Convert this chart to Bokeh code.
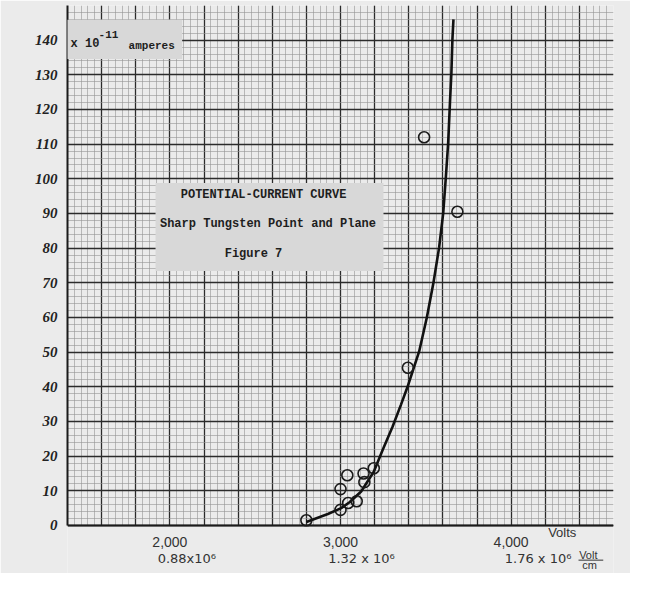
from bokeh.plotting import figure
from bokeh.models import (Range1d, SingleIntervalTicker, FixedTicker, Label,
                          BoxAnnotation, ColumnDataSource)
from bokeh.core.properties import value
from bokeh.embed import file_html
from bokeh.resources import INLINE

# ---- data ----
volts = [2800, 3000, 3000, 3040, 3045, 3095, 3135, 3140, 3195, 3395, 3490, 3685]
current = [1.5, 4.5, 10.5, 14.5, 6.5, 7.0, 15.0, 12.5, 16.5, 45.5, 112.0, 90.5]

curve_volts = [2800, 2926, 3004, 3053, 3121, 3195, 3247, 3305, 3354, 3393, 3461,
               3506, 3545, 3578, 3602, 3617, 3631, 3642, 3650, 3656, 3662]
curve_current = [1.0, 3.3, 5.0, 6.7, 9.8, 15.5, 21.8, 28.5, 34.8, 40.0, 50.2,
                 60.0, 70.1, 80.2, 90.1, 100.2, 110.3, 122.5, 130.6, 140.3, 146.0]

y_ticks = [0, 10, 20, 30, 40, 50, 60, 70, 80, 90, 100, 110, 120, 130, 140]
x_ticks = [2000, 3000, 4000]
x_tick_labels = ["2,000", "3,000", "4,000"]
field_labels = ["0.88x10\u2076", "1.32 x 10\u2076", "1.76 x 10\u2076"]

title_lines = ["POTENTIAL-CURRENT CURVE", "Sharp Tungsten Point and Plane", "Figure 7"]

X0, X1 = 1400, 4600      # extent of the graph paper (volts)
Y0, Y1 = 0, 150          # extent of the graph paper (amperes x 1e-11)

PAPER = "#ebebeb"
INK = "#1a1a1a"
PEN = "#333333"

p = figure(width=630, height=573, output_backend="svg", toolbar_location=None,
           x_range=Range1d(X0, X1), y_range=Range1d(-13.85, Y1),
           min_border_left=67, min_border_right=17, min_border_top=5,
           min_border_bottom=0)
p.background_fill_color = PAPER
p.border_fill_color = PAPER
p.outline_line_color = None

# graph paper
p.xgrid.ticker = SingleIntervalTicker(interval=200, num_minor_ticks=5)
p.ygrid.ticker = SingleIntervalTicker(interval=10, num_minor_ticks=5)
p.xgrid.bounds = (X0, X1)
p.xgrid.cross_bounds = (Y0, Y1)
p.ygrid.bounds = (Y0, Y1)
p.ygrid.cross_bounds = (X0, X1)
for g in (p.xgrid, p.ygrid):
    g.grid_line_color = "#2b2b2b"
    g.grid_line_width = 1.3
    g.minor_grid_line_color = "#939393"
    g.minor_grid_line_width = 0.6

# y axis
yax = p.yaxis[0]
yax.ticker = FixedTicker(ticks=y_ticks)
yax.bounds = (Y0, Y1)
yax.major_tick_line_color = None
yax.minor_tick_line_color = None
yax.axis_line_color = INK
yax.axis_line_width = 2
yax.major_label_standoff = 4
yax.major_label_text_font = "Liberation Serif"
yax.major_label_text_font_style = "bold italic"
yax.major_label_text_font_size = "15px"
yax.major_label_text_color = "#222222"

# x axis, drawn along the bottom edge of the paper
xax = p.xaxis[0]
xax.fixed_location = 0
xax.bounds = (X0, X1)
xax.ticker = FixedTicker(ticks=x_ticks)
xax.major_label_overrides = {t: s for t, s in zip(x_ticks, x_tick_labels)}
xax.major_tick_line_color = None
xax.minor_tick_line_color = None
xax.axis_line_color = INK
xax.axis_line_width = 2
xax.major_label_standoff = 6
xax.major_label_text_font = "Liberation Sans"
xax.major_label_text_font_size = "14px"
xax.major_label_text_color = PEN

# second line of x labels (field strength) and units
hand = dict(text_color=PEN, text_baseline="middle")
for t, s, off in zip(x_ticks, field_labels, [17, 21, 27]):
    p.text(x=[t], y=[-9.4], text=[s], x_offset=off, text_align="center",
           text_font=value("DejaVu Sans"), text_font_size="13px", **hand)
p.text(x=[4000], y=[-2.0], text=["Volts"], x_offset=37, text_align="left",
       text_font=value("Liberation Sans"), text_font_size="13px", **hand)
p.text(x=[4000], y=[-8.5], text=["Volt"], x_offset=68, text_align="left",
       text_font=value("Liberation Sans"), text_font_size="11px", **hand)
p.text(x=[4000], y=[-11.5], text=["cm"], x_offset=71, text_align="left",
       text_font=value("Liberation Sans"), text_font_size="11px", **hand)
p.segment(x0=[4395], y0=[-10.0], x1=[4540], y1=[-10.0], line_color=PEN, line_width=1)

# pasted label boxes
p.add_layout(BoxAnnotation(left=1916, right=3252, bottom=73.4, top=98.8,
                           fill_color="#d8d8d8", fill_alpha=1.0, line_color=None,
                           level="annotation"))
p.add_layout(BoxAnnotation(left=1369, right=2072, bottom=134.6, top=145.9,
                           fill_color="#d8d8d8", fill_alpha=1.0, line_color=None,
                           level="annotation"))

mono = dict(text_font="Liberation Mono", text_font_style="bold",
            text_color="#1e1e1e", text_baseline="middle")
for txt, (tx, ty) in zip(title_lines, [(2549, 95.2), (2575, 87.0), (2490, 78.3)]):
    p.add_layout(Label(x=tx, y=ty, text=txt, text_align="center",
                       text_font_size="12px", **mono))
p.add_layout(Label(x=1418, y=138.8, text="x 10", text_align="left",
                   text_font_size="12px", **mono))
p.add_layout(Label(x=1582, y=141.5, text="-11", text_align="left",
                   text_font_size="11px", **mono))
p.add_layout(Label(x=1758, y=138.4, text="amperes", text_align="left",
                   text_font_size="11px", **mono))

# curve and observations
p.line(curve_volts, curve_current, line_color="#111111", line_width=2.6)
src = ColumnDataSource(dict(v=volts, c=current))
p.scatter("v", "c", source=src, marker="circle", size=11, fill_color=None,
          line_color=INK, line_width=1.6)

open("out.html", "w").write(file_html(p, INLINE))
